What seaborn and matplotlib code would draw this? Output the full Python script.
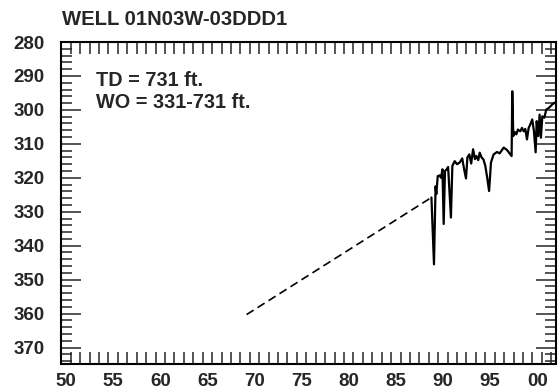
import matplotlib
matplotlib.use("Agg")
import matplotlib.pyplot as plt
from matplotlib.ticker import FixedLocator, MultipleLocator, NullFormatter
import pandas as pd
import seaborn as sns

# Estimated trend between early and later measurements (dashed)
est_year = [1969.66, 1989.28]
est_level = [360.3, 325.8]

# Measured depth to water, feet below land surface
meas_year = [
    1989.28, 1989.55, 1989.72, 1989.80, 1989.95, 1990.15, 1990.30, 1990.45,
    1990.58, 1990.72, 1990.90, 1991.05, 1991.35, 1991.50, 1991.75, 1992.00,
    1992.28, 1992.55, 1992.75, 1992.95, 1993.10, 1993.30, 1993.50, 1993.70,
    1993.90, 1994.05, 1994.25, 1994.40, 1994.60, 1994.80, 1995.00, 1995.20,
    1995.40, 1995.60, 1995.88, 1996.24, 1996.52, 1996.95, 1997.30, 1997.79,
    1997.86, 1997.97, 1998.11, 1998.29, 1998.46, 1998.71, 1998.89, 1999.07,
    1999.24, 1999.42, 1999.60, 1999.77, 1999.98, 2000.16, 2000.34, 2000.45,
    2000.62, 2000.76, 2000.90, 2001.05, 2001.26, 2001.47, 2001.75, 2002.10,
    2002.40,
]
meas_level = [
    325.8, 345.5, 322.5, 324.8, 319.5, 319.3, 320.0, 317.5,
    333.6, 318.0, 317.5, 316.8, 331.7, 316.5, 315.1, 316.0,
    315.5, 314.3, 317.5, 320.2, 314.0, 313.1, 315.8, 311.6,
    314.5, 313.6, 314.8, 312.6, 314.0, 314.6, 316.5, 320.0,
    323.9, 315.5, 313.1, 312.4, 312.8, 311.1, 311.8, 313.6,
    294.5, 307.7, 306.5, 307.2, 305.8, 306.3, 305.3, 306.3,
    305.6, 308.7, 305.3, 304.3, 302.8, 306.3, 312.5, 303.3,
    307.7, 301.4, 308.2, 301.9, 302.3, 299.9, 299.4, 298.4,
    297.8,
]

year_labels = ["50", "55", "60", "65", "70", "75", "80", "85", "90", "95", "00"]
label_years = [1950, 1955, 1960, 1965, 1970, 1975, 1980, 1985, 1990, 1995, 2000]
level_ticks = [280, 290, 300, 310, 320, 330, 340, 350, 360, 370]

title = "WELL 01N03W-03DDD1"
notes = "TD = 731 ft.\nWO = 331-731 ft."

sns.set_style("ticks")
plt.rcParams["font.family"] = ["Liberation Sans", "DejaVu Sans"]
plt.rcParams["font.weight"] = "bold"

fig = plt.figure(figsize=(5.58, 3.89), dpi=100)
ax = fig.add_axes([0.1099, 0.063, 0.8865, 0.829])

est_df = pd.DataFrame({"year": est_year, "level": est_level})
meas_df = pd.DataFrame({"year": meas_year, "level": meas_level})

sns.lineplot(data=est_df, x="year", y="level", ax=ax, color="black",
             lw=1.2, linestyle=(0, (5.0, 2.8)), estimator=None)
sns.lineplot(data=meas_df, x="year", y="level", ax=ax, color="black",
             lw=1.6, estimator=None)

ax.set_xlim(1950, 2002.5)
ax.set_ylim(375, 280)

# Year boundaries get the tick marks; labels sit in the middle of each year
ax.xaxis.set_minor_locator(MultipleLocator(1))
ax.xaxis.set_major_locator(FixedLocator([y + 0.5 for y in label_years]))
ax.set_xticklabels(year_labels)
ax.tick_params(axis="x", which="major", length=0, pad=6, labelsize=13.5)
ax.tick_params(axis="x", which="minor", length=8.5, width=1.1, direction="in",
               top=True, bottom=True)

ax.yaxis.set_major_locator(FixedLocator(level_ticks))
ax.yaxis.set_minor_locator(MultipleLocator(2))
ax.yaxis.set_minor_formatter(NullFormatter())
ax.set_yticklabels([str(v) for v in level_ticks])
ax.tick_params(axis="y", which="major", length=14.5, width=1.1, direction="in",
               left=True, right=True, pad=12, labelsize=13.5)
ax.tick_params(axis="y", which="minor", length=8, width=1.1, direction="in",
               left=True, right=True)

for lab in ax.get_xticklabels() + ax.get_yticklabels():
    lab.set_fontweight("bold")

for sp in ax.spines.values():
    sp.set_visible(True)
    sp.set_linewidth(1.5)
    sp.set_color("black")

ax.set_xlabel("")
ax.set_ylabel("")
ax.grid(False)

ax.text(0.002, 1.04, title, transform=ax.transAxes, ha="left", va="bottom",
        fontsize=14.6, fontweight="bold")
ax.text(0.07, 0.91, notes, transform=ax.transAxes, ha="left", va="top",
        fontsize=14.3, fontweight="bold", linespacing=1.2)

fig.savefig("out.png", dpi=100)
